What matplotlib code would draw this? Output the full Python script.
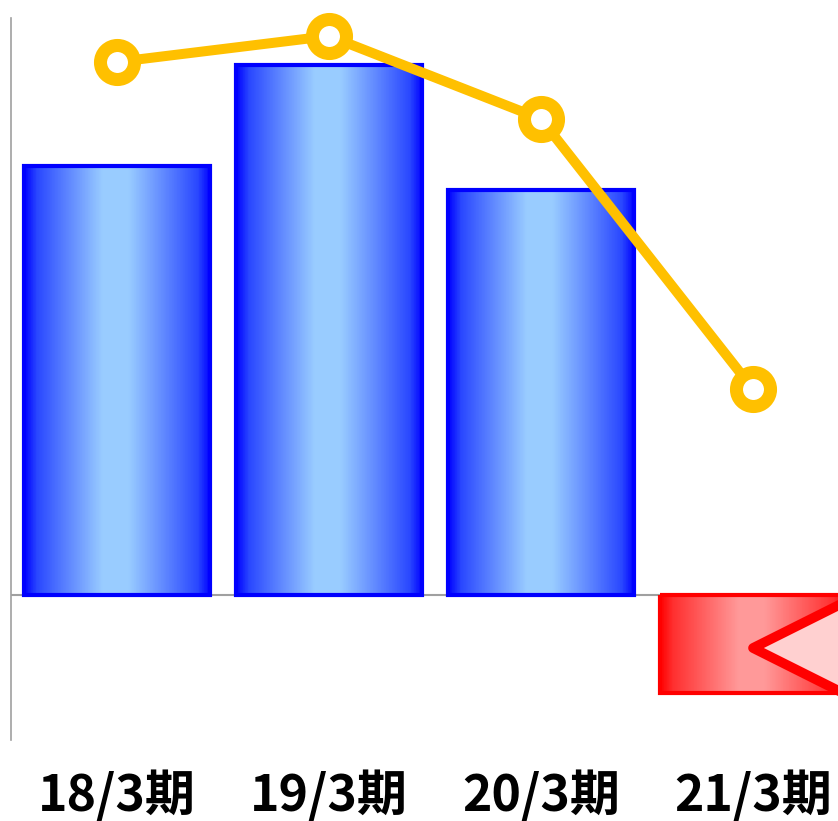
import numpy as np
import matplotlib.pyplot as plt
from matplotlib.colors import LinearSegmentedColormap
from matplotlib.patches import Polygon

plt.rcParams['font.family'] = ['Noto Sans CJK JP', 'DejaVu Sans']

# datos
periodos = ['18/3期', '19/3期', '20/3期', '21/3期']
barras = [4.29, 5.30, 4.05, -0.98]
linea = [10.66, 11.18, 9.52, 4.12]

fig = plt.figure(figsize=(8.38, 8.21), dpi=100)
W, H = 838, 821
ax = fig.add_axes([11 / W, 81 / H, 848 / W, 722 / H])
ax.set_xlim(-0.5, 3.5)
ax.set_ylim(-1.45, 5.77)

azul = LinearSegmentedColormap.from_list('azul', [
    (0.0, '#0000ff'), (0.07, '#2a48ff'), (0.42, '#99ccff'),
    (0.56, '#99ccff'), (0.93, '#2a48ff'), (1.0, '#0000ff')])
rojo = LinearSegmentedColormap.from_list('rojo', [
    (0.0, '#ff0000'), (0.07, '#ff3030'), (0.42, '#ff9999'),
    (0.56, '#ff9999'), (0.93, '#ff3030'), (1.0, '#ff0000')])
grad = np.linspace(0, 1, 256).reshape(1, -1)

x = np.arange(len(periodos))
ax.axhline(0, color='#a0a0a0', lw=1.5, zorder=1)
bars = ax.bar(x, barras, width=0.88, zorder=2)
for b, v in zip(bars, barras):
    borde = '#0000ff' if v >= 0 else '#ff0000'
    b.set_facecolor('none')
    b.set_edgecolor(borde)
    b.set_linewidth(3)
    bx, by = b.get_x(), b.get_y()
    bw, bh = b.get_width(), b.get_height()
    im = ax.imshow(grad, cmap=azul if v >= 0 else rojo, aspect='auto',
                   extent=[bx, bx + bw, by, by + bh], zorder=1.5,
                   interpolation='nearest')
    im.set_clip_path(b)

# triángulo rojo recortado en la última barra
tri = Polygon([[3.0, -0.53], [3.6, -0.53 + 0.636], [3.6, -0.53 - 0.636]],
              closed=True, facecolor='#ffd0d0', edgecolor='#ff0000', lw=7,
              joinstyle='round', zorder=3)
ax.add_patch(tri)

ax2 = ax.twinx()
ax2.set_ylim(-2.9, 11.54)
ax2.plot(x, linea, color='#ffc000', lw=7.2, marker='o', ms=24.5,
         mfc='white', mec='#ffc000', mew=9.4, zorder=5, clip_on=False)
ax2.axis('off')

for s in ['top', 'right', 'bottom']:
    ax.spines[s].set_visible(False)
ax.spines['left'].set_color('#a0a0a0')
ax.spines['left'].set_linewidth(1.2)
ax.set_yticks([])
ax.set_xticks(x)
ax.set_xticklabels(periodos, fontsize=36, fontweight='bold')
ax.tick_params(axis='x', length=0, pad=22)

fig.savefig('out.png', dpi=100)
